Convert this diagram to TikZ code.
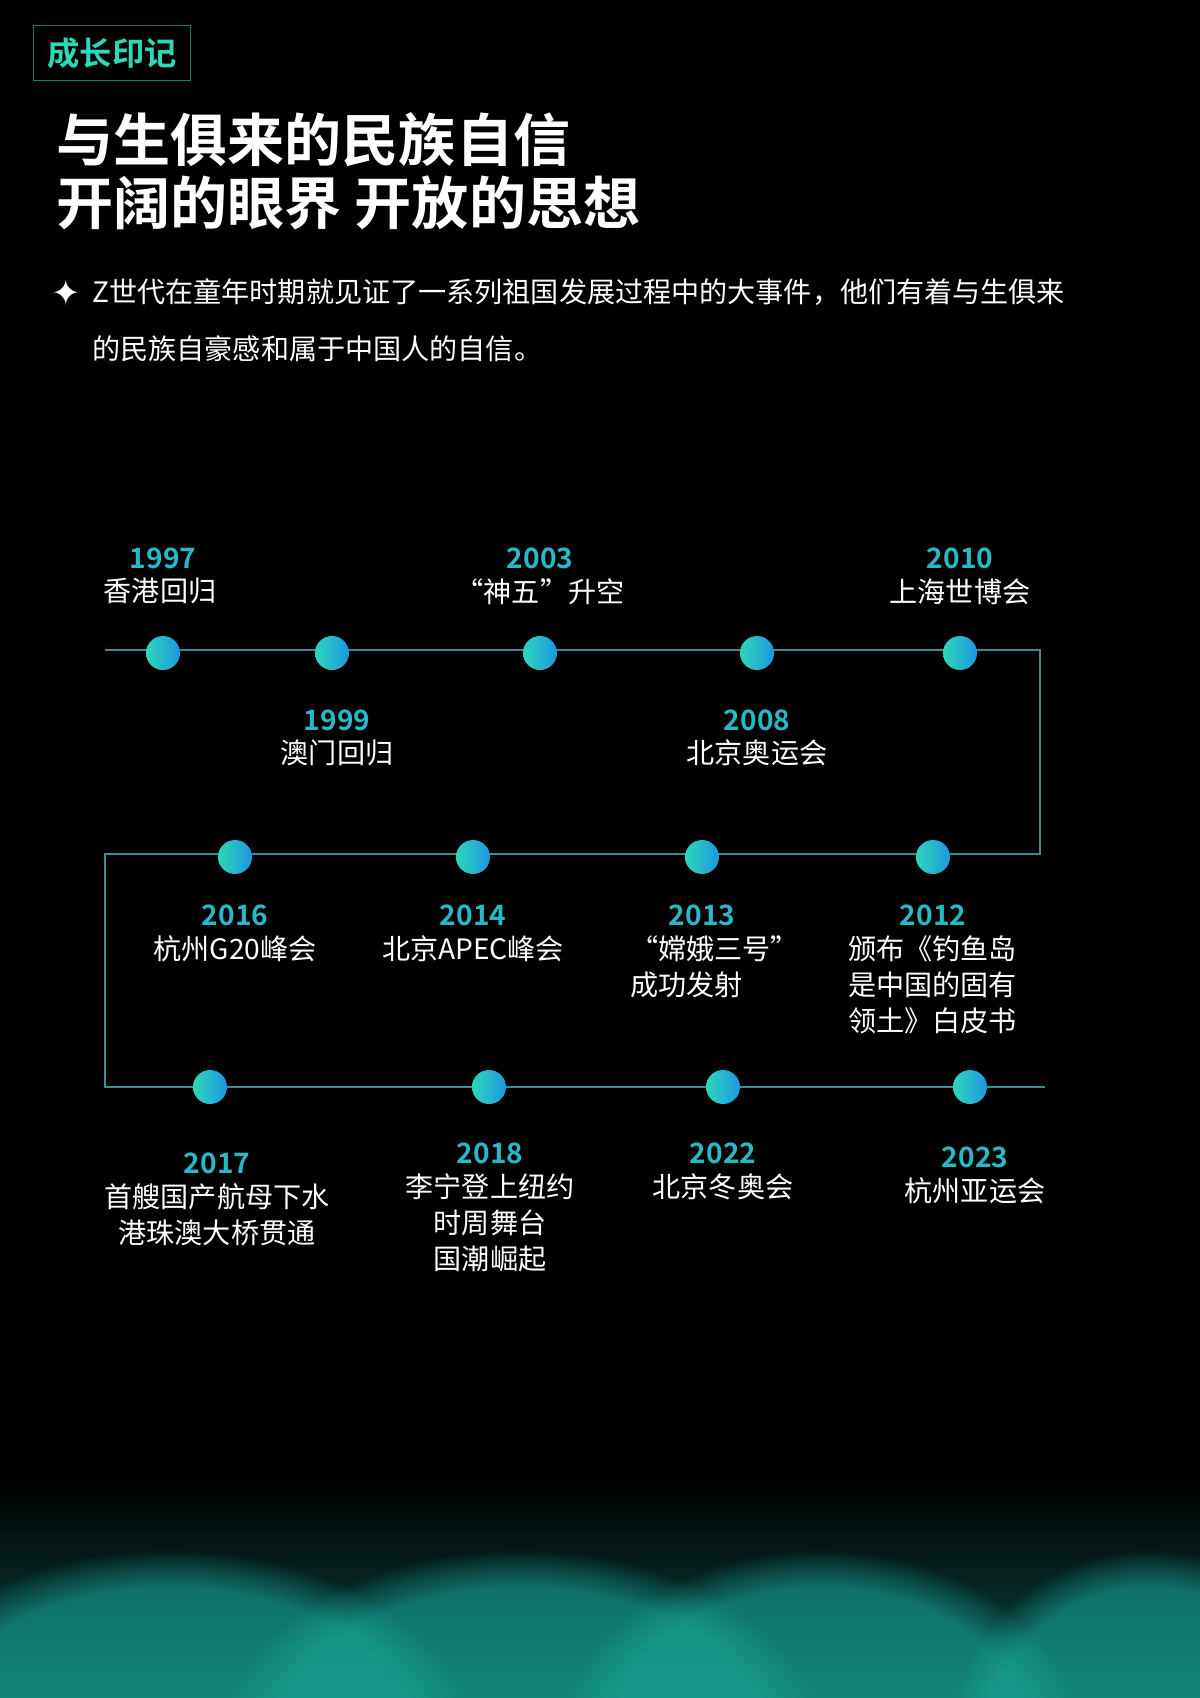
\documentclass[tikz,border=0pt]{standalone}
\usepackage{fontspec}
\setmainfont{Noto Sans CJK SC}
\newfontfamily\cjkb{Noto Sans CJK SC Bold}
\newfontfamily\symf{DejaVu Sans}
\usetikzlibrary{fadings}
\definecolor{tl}{RGB}{45,215,185}
\definecolor{bl}{RGB}{30,150,225}
\definecolor{yr}{RGB}{40,185,200}
\definecolor{ln}{RGB}{60,140,150}
\definecolor{glow}{RGB}{25,175,160}
\tikzset{
  dotc/.style={circle,minimum size=34*0.02cm,inner sep=0,left color=tl,right color=bl},
  yrlab/.style={text=yr,font=\cjkb\fontsize{16}{18}\selectfont,inner sep=0},
  evlab/.style={text=white,font=\fontsize{16}{20.5}\selectfont,inner sep=0,align=center,anchor=north},
  tline/.style={draw=ln,line width=0.7pt}
}
\begin{document}
\begin{tikzpicture}[x=0.02cm,y=-0.02cm]
\fill[black] (0,0) rectangle (1200,1698);
\useasboundingbox (0,0) rectangle (1200,1698);
% bottom glow
\shade[top color=black,bottom color=glow!45!black] (0,1480) rectangle (1200,1698);
\foreach \cx/\rx in {170/300,520/300,820/260,1150/200}{
  \fill[glow,path fading=circle with fuzzy edge 20 percent,fill opacity=0.55] (\cx,1740) ellipse ({\rx} and 190);
}
% header
\node[draw=glow!70!black,line width=0.8pt,minimum width=157*0.02cm,minimum height=55*0.02cm,anchor=north west,inner sep=0] (hdr) at (33,25) {};
\node[font=\cjkb\fontsize{18.4}{20}\selectfont,text=tl] (hdrt) at (hdr.center) {成长印记};
\node[anchor=west,text=white,font=\cjkb\fontsize{32.5}{36}\selectfont,inner sep=0] (t1) at (56,140) {与生俱来的民族自信};
\node[anchor=west,text=white,font=\cjkb\fontsize{32.5}{36}\selectfont,inner sep=0] (t2) at (56,203) {开阔的眼界 开放的思想};
\node[text=white,font=\symf\fontsize{20}{20}\selectfont,inner sep=0] (star) at (66,293) {✦};
\node[anchor=north west,text=white,font=\fontsize{16}{32.5}\selectfont,inner sep=0,align=left] (para) at (92,278) {Z世代在童年时期就见证了一系列祖国发展过程中的大事件，他们有着与生俱来\\的民族自豪感和属于中国人的自信。};
% lines
\coordinate (a0) at (105,650);
\coordinate (a1) at (1040,650);
\coordinate (b1) at (1040,854);
\coordinate (b0) at (105,854);
\coordinate (c0) at (105,1087);
\coordinate (c1) at (1045,1087);
\draw[tline] (a0) -- (a1) -- (b1) -- (b0) -- (c0) -- (c1);
% dots
\foreach \n/\x/\y in {d97/163/653,d99/332/653,d03/540/653,d08/757/653,d10/960/653,
  d16/235/857,d14/473/857,d13/702/857,d12/933/857,
  d17/210/1087,d18/489/1087,d22/723/1087,d23/970/1087}{
  \node[dotc] (\n) at (\x,\y) {};
}
% labels row 1
\node[yrlab] (y97) at (163,558) {1997};
\node[evlab] (e97) at (160,578) {香港回归};
\node[yrlab] (y03) at (540,558) {2003};
\node[evlab] (e03) at (540,578) {“神五”升空};
\node[yrlab] (y10) at (960,558) {2010};
\node[evlab] (e10) at (960,578) {上海世博会};
\node[yrlab] (y99) at (337,720) {1999};
\node[evlab] (e99) at (337,739) {澳门回归};
\node[yrlab] (y08) at (757,720) {2008};
\node[evlab] (e08) at (757,739) {北京奥运会};
% row 2
\node[yrlab] (y16) at (235,915) {2016};
\node[evlab] (e16) at (235,935) {杭州G20峰会};
\node[yrlab] (y14) at (473,915) {2014};
\node[evlab] (e14) at (473,935) {北京APEC峰会};
\node[yrlab] (y13) at (702,915) {2013};
\node[evlab,anchor=north west,align=left] (e13) at (630,935) {“嫦娥三号”\\ 成功发射};
\node[yrlab] (y12) at (933,915) {2012};
\node[evlab,anchor=north west,align=left] (e12) at (848,935) {颁布《钓鱼岛\\是中国的固有\\领土》白皮书};
% row 3
\node[yrlab] (y17) at (217,1163) {2017};
\node[evlab] (e17) at (217,1183) {首艘国产航母下水\\港珠澳大桥贯通};
\node[yrlab] (y18) at (490,1153) {2018};
\node[evlab] (e18) at (490,1173) {李宁登上纽约\\时周舞台\\国潮崛起};
\node[yrlab] (y22) at (723,1153) {2022};
\node[evlab] (e22) at (723,1173) {北京冬奥会};
\node[yrlab] (y23) at (975,1157) {2023};
\node[evlab] (e23) at (975,1177) {杭州亚运会};
\end{tikzpicture}
\end{document}
